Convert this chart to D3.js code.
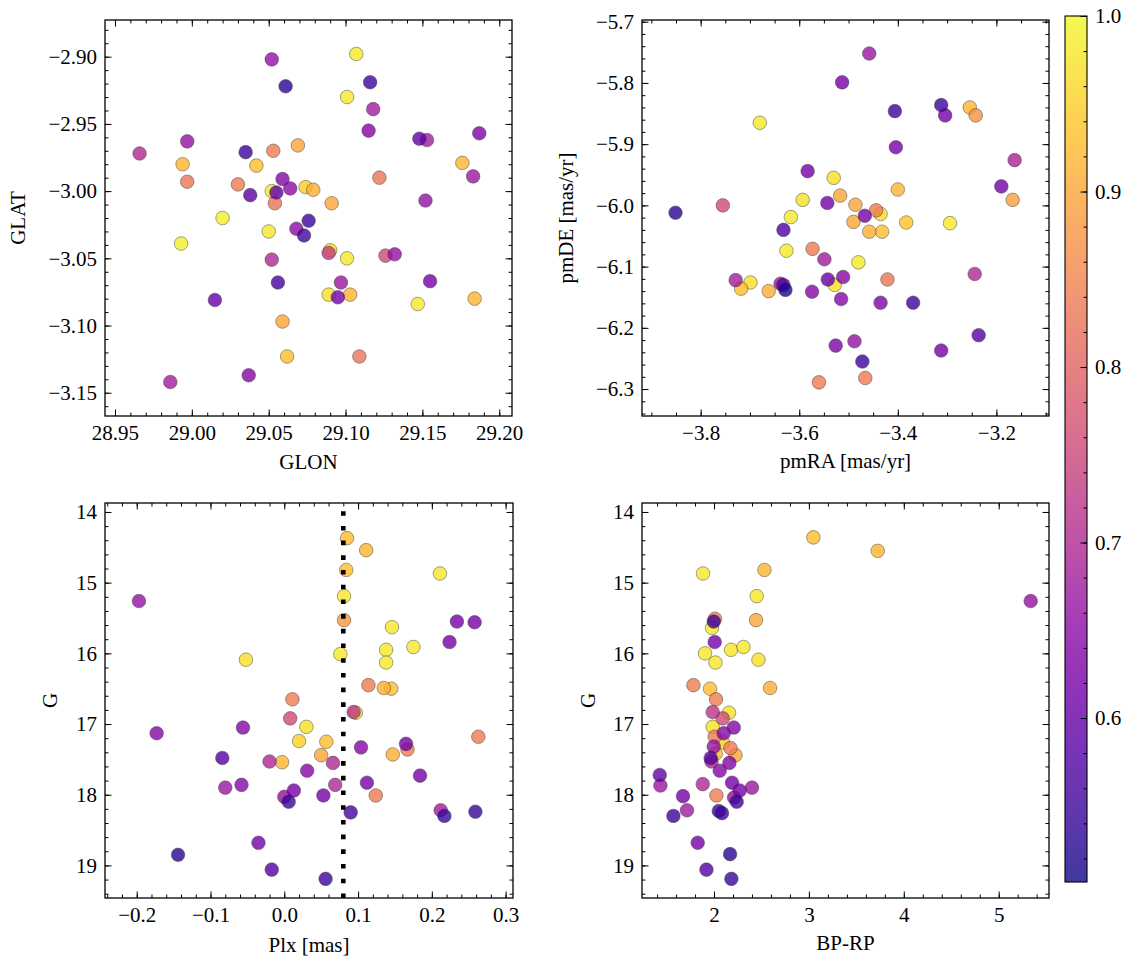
<!DOCTYPE html>
<html><head><meta charset="utf-8">
<script src="https://cdn.jsdelivr.net/npm/d3@7"></script>
<style>body{margin:0;background:#fff}svg{display:block}</style>
</head><body>
<script>
// ---------- data ----------
const glon = [29.052,29.061,28.997,28.966,28.994,28.997,29.035,29.053,29.069,29.042,29.030,29.038,29.059,29.064,29.052,29.055,29.054,29.074,29.020,28.993,29.050,29.068,29.076,29.073,29.052,29.056,29.015,29.059,29.062,29.037,28.986,29.107,29.116,29.101,29.118,29.115,29.148,29.153,29.187,29.176,29.183,29.122,29.152,29.079,29.091,29.090,29.089,29.101,29.126,29.132,29.097,29.155,29.089,29.095,29.103,29.147,29.184,29.109];
const glat = [-2.902,-2.922,-2.963,-2.972,-2.980,-2.993,-2.971,-2.970,-2.966,-2.981,-2.995,-3.003,-2.991,-2.998,-3.000,-3.001,-3.009,-2.997,-3.020,-3.039,-3.030,-3.028,-3.022,-3.033,-3.051,-3.068,-3.081,-3.097,-3.123,-3.137,-3.142,-2.898,-2.919,-2.930,-2.939,-2.955,-2.961,-2.962,-2.957,-2.979,-2.989,-2.990,-3.007,-2.999,-3.009,-3.044,-3.046,-3.050,-3.048,-3.047,-3.068,-3.067,-3.077,-3.079,-3.077,-3.084,-3.080,-3.123];
const probA = [0.66,0.53,0.66,0.70,0.92,0.83,0.55,0.84,0.90,0.93,0.84,0.59,0.64,0.65,0.98,0.59,0.83,0.95,0.99,0.99,0.98,0.65,0.55,0.56,0.70,0.56,0.60,0.90,0.93,0.64,0.68,0.98,0.55,0.98,0.68,0.64,0.59,0.68,0.63,0.92,0.67,0.83,0.66,0.91,0.90,0.97,0.73,0.98,0.76,0.66,0.67,0.62,0.97,0.62,0.92,0.98,0.92,0.83];

const pmra = [-3.513,-3.680,-3.583,-3.530,-3.517,-3.593,-3.543,-3.755,-3.851,-3.617,-3.632,-3.626,-3.573,-3.549,-3.729,-3.699,-3.718,-3.662,-3.638,-3.632,-3.628,-3.574,-3.542,-3.528,-3.511,-3.515,-3.526,-3.560,-3.458,-3.406,-3.312,-3.304,-3.254,-3.242,-3.404,-3.163,-3.190,-3.167,-3.400,-3.486,-3.490,-3.467,-3.444,-3.435,-3.458,-3.432,-3.383,-3.294,-3.480,-3.421,-3.244,-3.435,-3.369,-3.236,-3.312,-3.488,-3.472,-3.466];
const pmde = [-5.799,-5.865,-5.944,-5.955,-5.984,-5.991,-5.996,-6.000,-6.012,-6.019,-6.040,-6.074,-6.071,-6.088,-6.122,-6.126,-6.136,-6.140,-6.128,-6.130,-6.138,-6.141,-6.121,-6.130,-6.117,-6.153,-6.229,-6.289,-5.752,-5.846,-5.836,-5.853,-5.840,-5.853,-5.905,-5.926,-5.969,-5.991,-5.974,-5.999,-6.027,-6.017,-6.008,-6.014,-6.043,-6.043,-6.028,-6.029,-6.093,-6.121,-6.112,-6.159,-6.159,-6.212,-6.237,-6.222,-6.255,-6.282];
const probB = [0.62,0.98,0.62,0.97,0.90,0.97,0.62,0.76,0.53,0.98,0.57,0.98,0.84,0.68,0.68,0.97,0.93,0.91,0.66,0.58,0.52,0.64,0.60,0.97,0.64,0.64,0.63,0.84,0.67,0.55,0.55,0.62,0.92,0.87,0.62,0.69,0.62,0.89,0.92,0.90,0.90,0.62,0.84,0.97,0.91,0.93,0.94,0.98,0.98,0.83,0.70,0.63,0.55,0.58,0.62,0.66,0.55,0.84];

const plx = [-0.197,-0.052,0.011,0.008,0.030,0.020,-0.056,-0.173,-0.084,-0.020,-0.003,0.031,-0.080,-0.058,0.000,0.013,0.006,-0.035,-0.144,-0.017,0.085,0.111,0.084,0.081,0.081,0.076,0.211,0.146,0.234,0.258,0.224,0.175,0.138,0.138,0.114,0.135,0.145,0.097,0.094,0.057,0.050,0.104,0.165,0.167,0.147,0.263,0.066,0.069,0.053,0.112,0.124,0.184,0.090,0.212,0.217,0.259,0.056];
const gC = [15.26,16.09,16.65,16.92,17.04,17.24,17.05,17.13,17.48,17.53,17.54,17.66,17.90,17.86,18.03,17.94,18.10,18.68,18.85,19.06,14.37,14.54,14.82,15.19,15.53,16.01,14.87,15.63,15.55,15.56,15.84,15.91,15.95,16.13,16.45,16.49,16.50,16.84,16.83,17.25,17.44,17.33,17.28,17.36,17.43,17.18,17.55,17.86,18.01,17.83,18.01,17.73,18.25,18.22,18.30,18.24,19.19];
const probC = [0.66,0.97,0.84,0.76,0.97,0.95,0.64,0.64,0.58,0.70,0.92,0.64,0.67,0.64,0.66,0.62,0.55,0.62,0.53,0.58,0.93,0.92,0.93,0.98,0.88,0.98,0.98,0.98,0.62,0.62,0.62,0.98,0.98,0.98,0.84,0.91,0.93,0.97,0.72,0.93,0.90,0.64,0.62,0.84,0.91,0.84,0.70,0.70,0.62,0.62,0.84,0.62,0.56,0.68,0.55,0.55,0.55];

const bprp = [3.047,1.884,2.531,2.450,2.443,2.010,1.997,1.979,2.007,1.905,2.015,2.179,2.310,2.468,1.783,1.958,2.590,2.021,2.158,1.986,2.092,2.208,1.986,2.102,2.007,2.095,1.997,2.173,2.226,2.018,1.965,1.973,2.162,2.060,1.428,1.435,1.881,2.190,2.271,2.400,1.673,2.025,2.211,2.239,1.715,1.572,2.050,2.084,1.828,2.169,1.920,2.183,3.725,5.337];
const gD = [14.36,14.87,14.82,15.19,15.53,15.51,15.55,15.64,15.84,16.00,16.13,15.95,15.91,16.09,16.45,16.50,16.49,16.65,16.84,16.83,16.92,17.05,17.04,17.13,17.18,17.26,17.32,17.34,17.44,17.42,17.48,17.53,17.55,17.66,17.72,17.87,17.85,17.83,17.94,17.90,18.02,18.01,18.04,18.10,18.22,18.30,18.23,18.26,18.68,18.84,19.06,19.19,14.55,15.26];
const probD = [0.93,0.98,0.92,0.98,0.90,0.84,0.55,0.98,0.62,0.98,0.98,0.98,0.98,0.97,0.84,0.93,0.91,0.84,0.97,0.72,0.76,0.64,0.97,0.64,0.84,0.95,0.66,0.84,0.90,0.92,0.58,0.70,0.64,0.64,0.60,0.67,0.70,0.62,0.62,0.67,0.62,0.84,0.66,0.55,0.68,0.55,0.55,0.55,0.62,0.53,0.58,0.55,0.92,0.66];

const plxLine = 0.08;

const ticksA_x = [28.95,29.00,29.05,29.10,29.15,29.20];
const ticksA_y = [-2.90,-2.95,-3.00,-3.05,-3.10,-3.15];
const ticksB_x = [-3.8,-3.6,-3.4,-3.2];
const ticksB_y = [-5.7,-5.8,-5.9,-6.0,-6.1,-6.2,-6.3];
const ticksC_x = [-0.2,-0.1,0.0,0.1,0.2,0.3];
const ticksG = [14,15,16,17,18,19];
const ticksD_x = [2,3,4,5];
const ticksCbar = [0.6,0.7,0.8,0.9,1.0];

// ---------- drawing ----------
const W = 1133, H = 965;
const FONT = "'Liberation Serif','Times New Roman',serif";
const FS = 21;
const svg = d3.select("body").append("svg").attr("width", W).attr("height", H)
  .style("font-family", FONT);

const vmin = 0.5066, vmax = 1.0;
const color = d3.scaleSequential(d3.interpolatePlasma).domain([vmin, vmax]);

function minorVals(d0, d1, step) {
  const a = Math.min(d0, d1), b = Math.max(d0, d1);
  return d3.range(Math.ceil(a / step - 1e-9), Math.floor(b / step + 1e-9) + 1).map(i => +(i * step).toFixed(6));
}

function styleAxis(g) {
  g.select(".domain").remove();
  g.selectAll(".tick line").attr("stroke", "#000").attr("stroke-width", 1.0);
  g.selectAll(".tick text").attr("fill", "#000").style("font-size", FS + "px").style("font-family", FONT);
}

function panel(cfg) {
  const {box, xd, yd, xs, ys, cs, xt, yt, xminor, yminor, xfmt, yfmt, xlabel, ylabel, ylabelX, xlabelY} = cfg;
  const x = d3.scaleLinear().domain(xd).range([box.l, box.r]);
  const y = d3.scaleLinear().domain(yd).range([box.b, box.t]);
  const g = svg.append("g");
  const clipId = "clip" + Math.round(box.l) + "_" + Math.round(box.t);
  g.append("clipPath").attr("id", clipId).append("rect")
    .attr("x", box.l).attr("y", box.t).attr("width", box.r - box.l).attr("height", box.b - box.t);

  const idx = d3.range(xs.length).sort((a, b) => cs[b] - cs[a]);
  g.append("g").attr("clip-path", `url(#${clipId})`).selectAll("circle").data(idx).join("circle")
    .attr("cx", i => x(xs[i])).attr("cy", i => y(ys[i])).attr("r", 6.8)
    .attr("fill", i => color(cs[i])).attr("stroke", "#1a1a1a").attr("stroke-width", 0.5)
    .attr("opacity", 0.8);

  if (cfg.vline !== undefined) {
    g.append("line").attr("clip-path", `url(#${clipId})`)
      .attr("x1", x(cfg.vline)).attr("x2", x(cfg.vline)).attr("y1", box.b).attr("y2", box.t)
      .attr("stroke", "#000").attr("stroke-width", 4.6).attr("stroke-dasharray", "4.6 10.1");
  }

  const M = 6.5, m = 3.5;
  const xmin = minorVals(xd[0], xd[1], xminor), ymin = minorVals(yd[0], yd[1], yminor);
  g.append("g").attr("transform", `translate(0,${box.b})`)
    .call(d3.axisBottom(x).tickValues(xmin).tickSize(-m).tickFormat("")).call(styleAxis);
  g.append("g").attr("transform", `translate(0,${box.b})`)
    .call(d3.axisBottom(x).tickValues(xt).tickSize(-M).tickPadding(9).tickFormat(d3.format(xfmt))).call(styleAxis);
  g.append("g").attr("transform", `translate(0,${box.t})`)
    .call(d3.axisTop(x).tickValues(xmin).tickSize(-m).tickFormat("")).call(styleAxis);
  g.append("g").attr("transform", `translate(0,${box.t})`)
    .call(d3.axisTop(x).tickValues(xt).tickSize(-M).tickFormat("")).call(styleAxis);
  g.append("g").attr("transform", `translate(${box.l},0)`)
    .call(d3.axisLeft(y).tickValues(ymin).tickSize(-m).tickFormat("")).call(styleAxis);
  g.append("g").attr("transform", `translate(${box.l},0)`)
    .call(d3.axisLeft(y).tickValues(yt).tickSize(-M).tickPadding(8).tickFormat(d3.format(yfmt))).call(styleAxis);
  g.append("g").attr("transform", `translate(${box.r},0)`)
    .call(d3.axisRight(y).tickValues(ymin).tickSize(-m).tickFormat("")).call(styleAxis);
  g.append("g").attr("transform", `translate(${box.r},0)`)
    .call(d3.axisRight(y).tickValues(yt).tickSize(-M).tickFormat("")).call(styleAxis);

  g.append("rect").attr("x", box.l).attr("y", box.t).attr("width", box.r - box.l).attr("height", box.b - box.t)
    .attr("fill", "none").attr("stroke", "#000").attr("stroke-width", 1.3);

  g.append("text").attr("x", (box.l + box.r) / 2).attr("y", xlabelY).attr("text-anchor", "middle")
    .style("font-size", FS + "px").text(xlabel);
  g.append("text").attr("transform", `translate(${ylabelX},${(box.t + box.b) / 2}) rotate(-90)`)
    .attr("text-anchor", "middle").style("font-size", FS + "px").text(ylabel);
}

const top1 = 20, bot1 = 416, top2 = 503, bot2 = 898;
const L1 = 105, R1 = 512, L2 = 642, R2 = 1049;

panel({box: {l: L1, r: R1, t: top1, b: bot1}, xd: [28.9435, 29.2083], yd: [-3.1673, -2.8727],
  xs: glon, ys: glat, cs: probA, xt: ticksA_x, yt: ticksA_y, xminor: 0.01, yminor: 0.01,
  xfmt: ".2f", yfmt: ".2f", xlabel: "GLON", ylabel: "GLAT", ylabelX: 25, xlabelY: 469});

panel({box: {l: L2, r: R2, t: top1, b: bot1}, xd: [-3.919, -3.0933], yd: [-6.344, -5.6972],
  xs: pmra, ys: pmde, cs: probB, xt: ticksB_x, yt: ticksB_y, xminor: 0.05, yminor: 0.02,
  xfmt: ".1f", yfmt: ".1f", xlabel: "pmRA [mas/yr]", ylabel: "pmDE [mas/yr]", ylabelX: 573, xlabelY: 468});

panel({box: {l: L1, r: 513, t: top2, b: bot2}, xd: [-0.243, 0.310], yd: [19.461, 13.873],
  xs: plx, ys: gC, cs: probC, xt: ticksC_x, yt: ticksG, xminor: 0.02, yminor: 0.2,
  xfmt: ".1f", yfmt: "d", xlabel: "Plx [mas]", ylabel: "G", ylabelX: 57, xlabelY: 952, vline: plxLine});

panel({box: {l: L2, r: R2, t: top2, b: bot2}, xd: [1.241, 5.530], yd: [19.461, 13.873],
  xs: bprp, ys: gD, cs: probD, xt: ticksD_x, yt: ticksG, xminor: 0.2, yminor: 0.2,
  xfmt: "d", yfmt: "d", xlabel: "BP-RP", ylabel: "G", ylabelX: 595, xlabelY: 950});

// ---------- colorbar ----------
const cb = {l: 1065, r: 1087, t: 16, b: 882};
const cy = d3.scaleLinear().domain([vmin, vmax]).range([cb.b, cb.t]);
const defs = svg.append("defs");
const grad = defs.append("linearGradient").attr("id", "cbgrad").attr("x1", 0).attr("y1", 1).attr("x2", 0).attr("y2", 0);
d3.range(0, 1.0001, 0.02).forEach(t => grad.append("stop").attr("offset", t).attr("stop-color", d3.interpolatePlasma(t)));
svg.append("rect").attr("x", cb.l).attr("y", cb.t).attr("width", cb.r - cb.l).attr("height", cb.b - cb.t)
  .attr("fill", "url(#cbgrad)").attr("opacity", 0.8);
const cbg = svg.append("g");
cbg.append("g").attr("transform", `translate(${cb.r},0)`)
  .call(d3.axisRight(cy).tickValues(minorVals(vmin, vmax, 0.02)).tickSize(-3.5).tickFormat("")).call(styleAxis);
cbg.append("g").attr("transform", `translate(${cb.r},0)`)
  .call(d3.axisRight(cy).tickValues(ticksCbar).tickSize(-6.5).tickPadding(8).tickFormat(d3.format(".1f"))).call(styleAxis);
svg.append("rect").attr("x", cb.l).attr("y", cb.t).attr("width", cb.r - cb.l).attr("height", cb.b - cb.t)
  .attr("fill", "none").attr("stroke", "#000").attr("stroke-width", 1.1);
</script>
</body></html>
